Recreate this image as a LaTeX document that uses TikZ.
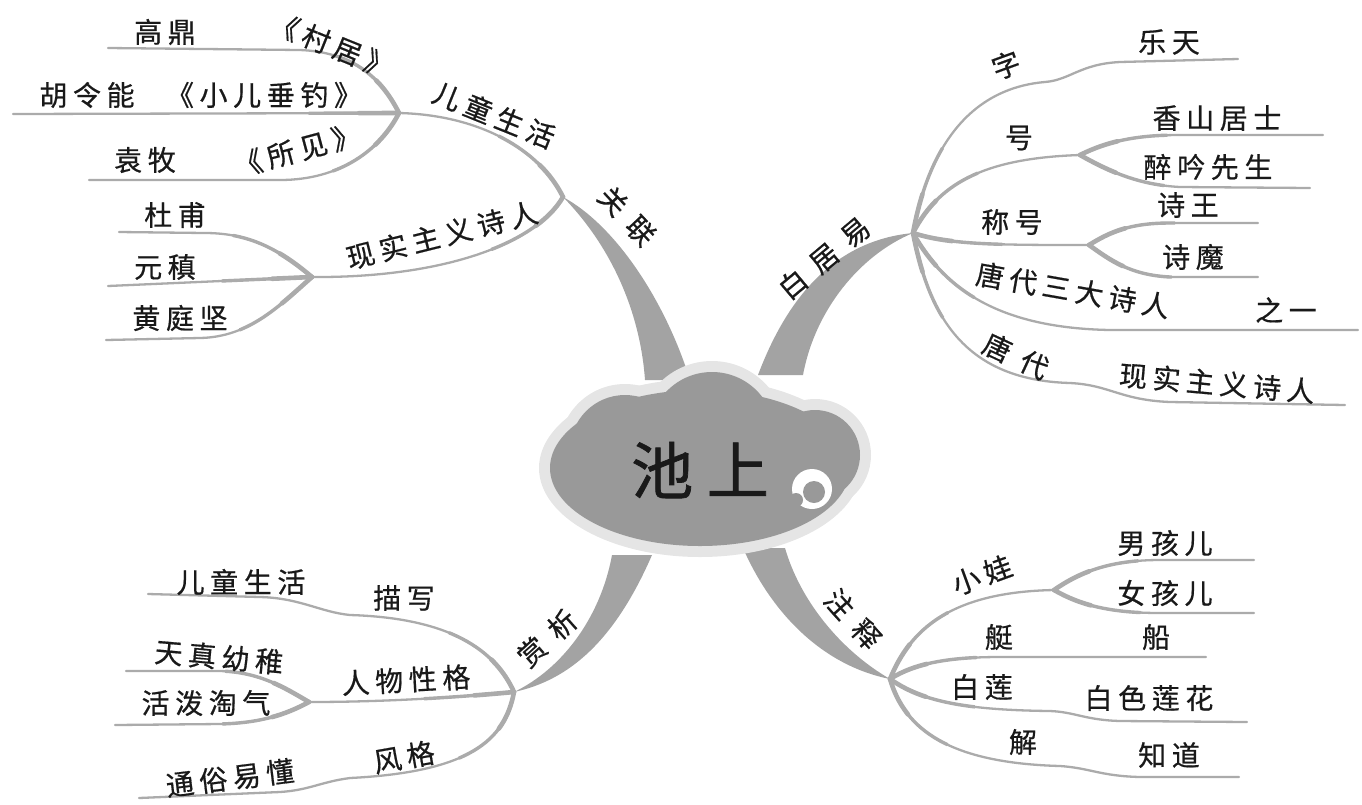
\documentclass[tikz,border=0pt]{standalone}
\usepackage{fontspec}
\usetikzlibrary{shapes.geometric}
\newfontfamily\cjk[LetterSpace=20, FakeBold=0.6]{Noto Sans CJK SC}
\newfontfamily\cjkwide[LetterSpace=45, FakeBold=0.6]{Noto Sans CJK SC}
\newfontfamily\cjkbig[LetterSpace=22, FakeBold=1.2]{Noto Sans CJK SC}
\definecolor{ln}{gray}{0.67}
\definecolor{mbc}{gray}{0.64}
\definecolor{cloudc}{gray}{0.60}
\definecolor{haloc}{gray}{0.90}
\definecolor{txt}{gray}{0.10}
\tikzset{
  lbl/.style={font=\cjk\fontsize{28}{28}\selectfont, text=txt, inner sep=0pt},
  mlbl/.style={font=\cjkwide\fontsize{28}{28}\selectfont, text=txt, inner sep=0pt},
  br/.style={draw=ln, line width=2.3pt, line cap=round,
    postaction={draw=ln, line width=3.4pt, dash pattern=on 90pt off 4000pt},
    postaction={draw=ln, line width=4.6pt, dash pattern=on 40pt off 4000pt}},
  mb/.style={fill=mbc},
}
\begin{document}
\begin{tikzpicture}[x=1pt,y=-1pt]
\useasboundingbox (0,0) rectangle (1362,804);
% junctions
\coordinate (jGL) at (563,197);
\coordinate (jBJY) at (913,233);
\coordinate (jSX) at (514,692);
\coordinate (jZS) at (890,679);
\coordinate (jEZ) at (399,113);
\coordinate (jXS) at (312,277);
\coordinate (jH) at (1080,155);
\coordinate (jC) at (1089,245);
\coordinate (jR) at (309,702);
\coordinate (jW) at (1054,590);
% leaf ends
\coordinate (eGD) at (108,48);
\coordinate (eHL) at (13,114);
\coordinate (eYM) at (89,180);
\coordinate (eDF) at (119,232);
\coordinate (eYZ) at (108,286);
\coordinate (eHT) at (106,340);
\coordinate (eZ) at (1238,59);
\coordinate (eXS) at (1323,135);
\coordinate (eZY) at (1310,188);
\coordinate (eSW) at (1258,223);
\coordinate (eSM) at (1258,277);
\coordinate (eTD3) at (1358,330);
\coordinate (eTD) at (1345,405);
\coordinate (eMX) at (148,594);
\coordinate (eTZ) at (126,671);
\coordinate (eHP) at (115,725);
\coordinate (eFG) at (139,798);
\coordinate (eNH) at (1254,560);
\coordinate (eVH) at (1254,613);
\coordinate (eT) at (1206,657);
\coordinate (eBL) at (1247,722);
\coordinate (eJ) at (1239,777);

% main thick branches
\fill[mb] (645,380) .. controls (640,310) and (610,245) .. (jGL)
  .. controls (615,225) and (665,300) .. (690,380) -- cycle;
\fill[mb] (758,375) .. controls (790,290) and (840,240) .. (jBJY)
  .. controls (860,255) and (815,310) .. (803,375) -- cycle;
\fill[mb] (612,555) .. controls (600,620) and (560,670) .. (jSX)
  .. controls (570,680) and (615,640) .. (652,555) -- cycle;
\fill[mb] (743,548) .. controls (770,610) and (820,665) .. (jZS)
  .. controls (840,650) and (800,600) .. (785,548) -- cycle;

% cloud halo
\begin{scope}[fill=haloc]
  \fill (700,468) ellipse [x radius=161, y radius=89];
  \fill (625,450) circle (66);
  \fill (712,435) circle (74);
  \fill (815,455) circle (56);
  \fill (812,489) circle (30);
\end{scope}
% cloud body
\node[fill=cloudc, ellipse, minimum width=300, minimum height=156, inner sep=0pt] (cloud) at (700,468) {};
\fill[cloudc] (625,450) circle (55);
\fill[cloudc] (712,435) circle (63);
\fill[cloudc] (815,455) circle (45);
% swirl
\fill[white] (812,489) circle (20);
\fill[cloudc] (814,492) circle (11);
\fill[cloudc] (796,500) circle (7);
\node[font=\cjkbig\fontsize{62}{62}\selectfont, text=txt, inner sep=0pt] (root) at (700,470) {池上};

% ---- 关联 ----
\draw[br] (jGL) .. controls (540,150) and (480,115) .. (jEZ);
\draw[br] (jGL) .. controls (535,245) and (440,278) .. (jXS);
\draw[br] (jEZ) .. controls (380,75) and (350,52) .. (300,50) -- (eGD);
\draw[br] (jEZ) -- (eHL);
\draw[br] (jEZ) .. controls (380,150) and (340,180) .. (280,180) -- (eYM);
\draw[br] (jXS) .. controls (280,250) and (250,233) .. (205,233) -- (eDF);
\draw[br] (jXS) -- (eYZ);
\draw[br] (jXS) .. controls (280,305) and (250,337) .. (200,338) -- (eHT);

% ---- 白居易 ----
\draw[br] (jBJY) .. controls (930,140) and (975,88) .. (1045,82)
  .. controls (1070,80) and (1080,64) .. (1120,62) -- (eZ);
\draw[br] (jBJY) .. controls (940,180) and (990,158) .. (jH);
\draw[br] (jH) .. controls (1110,140) and (1140,135) .. (1180,135) -- (eXS);
\draw[br] (jH) .. controls (1110,172) and (1140,185) .. (1180,187) -- (eZY);
\draw[br] (jBJY) .. controls (950,245) and (1000,245) .. (jC);
\draw[br] (jC) .. controls (1110,232) and (1130,223) .. (1170,223) -- (eSW);
\draw[br] (jC) .. controls (1110,260) and (1130,275) .. (1170,277) -- (eSM);
\draw[br] (jBJY) .. controls (945,290) and (1000,328) .. (1110,330) -- (eTD3);
\draw[br] (jBJY) .. controls (928,310) and (960,380) .. (1070,383)
  .. controls (1110,385) and (1120,400) .. (1170,402) -- (eTD);

% ---- 赏析 ----
\draw[br] (jSX) .. controls (495,650) and (450,618) .. (350,615)
  .. controls (320,612) and (300,598) .. (260,597) -- (eMX);
\draw[br] (jSX) .. controls (450,698) and (380,702) .. (jR);
\draw[br] (jR) .. controls (285,688) and (260,672) .. (220,671) -- (eTZ);
\draw[br] (jR) .. controls (285,715) and (260,723) .. (220,724) -- (eHP);
\draw[br] (jSX) .. controls (505,740) and (470,772) .. (350,778)
  .. controls (320,782) and (310,790) .. (280,792) -- (eFG);

% ---- 注释 ----
\draw[br] (jZS) .. controls (910,630) and (950,592) .. (jW);
\draw[br] (jW) .. controls (1080,572) and (1110,560) .. (1160,560) -- (eNH);
\draw[br] (jW) .. controls (1080,605) and (1110,613) .. (1160,613) -- (eVH);
\draw[br] (jZS) .. controls (915,663) and (950,657) .. (1000,657) -- (eT);
\draw[br] (jZS) .. controls (920,700) and (960,710) .. (1050,711)
  .. controls (1075,712) and (1085,720) .. (1120,721) -- (eBL);
\draw[br] (jZS) .. controls (905,730) and (950,763) .. (1060,766)
  .. controls (1090,768) and (1100,776) .. (1140,777) -- (eJ);

% ---- labels ----
\node[mlbl, rotate=-47] (tGL) at (627,216) {关联};
\node[lbl, rotate=-22] (tEZ) at (494,115) {儿童生活};
\node[lbl, rotate=14] (tXS) at (442,235) {现实主义诗人};
\node[lbl] (tGD) at (165,32) {高鼎};
\node[lbl, rotate=-22] (tCJ) at (332,45) {《村居》};
\node[lbl] (tHL) at (87,95) {胡令能};
\node[lbl] (tXE) at (264,95) {《小儿垂钓》};
\node[lbl] (tYM) at (145,160) {袁牧};
\node[lbl, rotate=15] (tSJ) at (297,150) {《所见》};
\node[lbl] (tDF) at (175,215) {杜甫};
\node[lbl] (tYZ) at (165,267) {元稹};
\node[lbl] (tHT) at (180,318) {黄庭坚};

\node[mlbl, rotate=40] (tBJY) at (824,258) {白居易};
\node[lbl, rotate=20] (tZ) at (1006,65) {字};
\node[lbl] (tLT) at (1169,42) {乐天};
\node[lbl] (tH) at (1019,138) {号};
\node[lbl] (tXSJ) at (1217,118) {香山居士};
\node[lbl] (tZYX) at (1208,167) {醉吟先生};
\node[lbl] (tCH) at (1012,222) {称号};
\node[lbl] (tSW) at (1188,205) {诗王};
\node[lbl] (tSM) at (1193,257) {诗魔};
\node[lbl, rotate=-10] (tTD3) at (1073,290) {唐代三大诗人};
\node[lbl] (tZY) at (1286,310) {之一};
\node[mlbl, rotate=-25] (tTD) at (1016,356) {唐代};
\node[lbl, rotate=-5] (tXSZ) at (1217,383) {现实主义诗人};

\node[mlbl, rotate=42] (tSX) at (547,638) {赏析};
\node[lbl] (tMX) at (404,598) {描写};
\node[lbl] (tETSH) at (241,582) {儿童生活};
\node[lbl, rotate=3] (tRW) at (406,680) {人物性格};
\node[lbl, rotate=-5] (tTZ) at (219,657) {天真幼稚};
\node[lbl] (tHP) at (206,703) {活泼淘气};
\node[lbl, rotate=10] (tFG) at (404,757) {风格};
\node[lbl, rotate=7] (tTS) at (230,778) {通俗易懂};

\node[mlbl, rotate=-48] (tZS) at (853,619) {注释};
\node[lbl, rotate=20] (tXW) at (982,575) {小娃};
\node[lbl] (tNH) at (1165,543) {男孩儿};
\node[lbl] (tVH) at (1165,593) {女孩儿};
\node[lbl] (tT) at (999,637) {艇};
\node[lbl] (tC) at (1156,637) {船};
\node[lbl] (tBL) at (982,687) {白莲};
\node[lbl] (tBS) at (1149,698) {白色莲花};
\node[lbl] (tJ) at (1023,742) {解};
\node[lbl] (tZD) at (1169,755) {知道};
\end{tikzpicture}
\end{document}
